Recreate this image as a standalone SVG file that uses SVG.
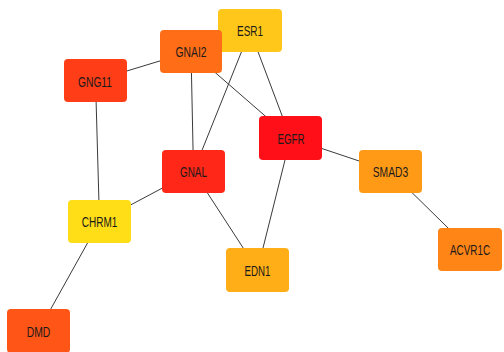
<svg xmlns="http://www.w3.org/2000/svg" width="504" height="352" viewBox="0 0 504 352">
  <style>
    .edge { stroke: #3a3a3a; stroke-width: 1; fill: none; }
    .node rect { rx: 4; ry: 4; }
    .node text { font-family: "Liberation Sans", Arial, sans-serif; font-size: 14.5px; fill: #1a1a1a; text-anchor: middle; }
  </style>
  <rect width="504" height="352" fill="#ffffff"/>
  <!-- interactions, drawn centre to centre beneath the nodes -->
  <g id="edges">
    <line class="edge" x1="95.5" y1="80.5" x2="191" y2="51.5"/>
    <line class="edge" x1="191" y1="51.5" x2="193.5" y2="171.5"/>
    <line class="edge" x1="191" y1="51.5" x2="290.5" y2="138"/>
    <line class="edge" x1="250" y1="30.5" x2="193.5" y2="171.5"/>
    <line class="edge" x1="250" y1="30.5" x2="290.5" y2="138"/>
    <line class="edge" x1="290.5" y1="138" x2="390.5" y2="171.5"/>
    <line class="edge" x1="290.5" y1="138" x2="257.5" y2="270"/>
    <line class="edge" x1="95.5" y1="80.5" x2="99.5" y2="221.5"/>
    <line class="edge" x1="193.5" y1="171.5" x2="99.5" y2="221.5"/>
    <line class="edge" x1="193.5" y1="171.5" x2="257.5" y2="270"/>
    <line class="edge" x1="99.5" y1="221.5" x2="38.5" y2="331"/>
    <line class="edge" x1="390.5" y1="171.5" x2="470" y2="249.5"/>
  </g>
  <g id="ESR1" class="node">
    <rect x="218" y="9" width="64" height="43" fill="#FFC71A"/>
    <text x="250" y="36" textLength="26" lengthAdjust="spacingAndGlyphs">ESR1</text>
  </g>
  <g id="GNAI2" class="node">
    <rect x="160" y="30" width="62" height="43" fill="#FF6E17"/>
    <text x="191" y="57" textLength="31" lengthAdjust="spacingAndGlyphs">GNAI2</text>
  </g>
  <g id="GNG11" class="node">
    <rect x="64" y="59" width="63" height="43" fill="#FF3D17"/>
    <text x="95" y="86.5" textLength="34" lengthAdjust="spacingAndGlyphs">GNG11</text>
  </g>
  <g id="EGFR" class="node">
    <rect x="259" y="116" width="63" height="44" fill="#FF0F17"/>
    <text x="291" y="143.5" textLength="27" lengthAdjust="spacingAndGlyphs">EGFR</text>
  </g>
  <g id="GNAL" class="node">
    <rect x="162" y="150" width="63" height="43" fill="#FF2717"/>
    <text x="193.5" y="177" textLength="27" lengthAdjust="spacingAndGlyphs">GNAL</text>
  </g>
  <g id="SMAD3" class="node">
    <rect x="359" y="150" width="63" height="43" fill="#FF9A17"/>
    <text x="390.5" y="177" textLength="35.5" lengthAdjust="spacingAndGlyphs">SMAD3</text>
  </g>
  <g id="CHRM1" class="node">
    <rect x="68" y="200" width="63" height="43" fill="#FFDD17"/>
    <text x="99.5" y="227" textLength="35.5" lengthAdjust="spacingAndGlyphs">CHRM1</text>
  </g>
  <g id="EDN1" class="node">
    <rect x="226" y="248" width="63" height="44" fill="#FFAE17"/>
    <text x="257.5" y="275.5" textLength="26" lengthAdjust="spacingAndGlyphs">EDN1</text>
  </g>
  <g id="ACVR1C" class="node">
    <rect x="438" y="228" width="64" height="43" fill="#FF8517"/>
    <text x="470" y="255" textLength="40" lengthAdjust="spacingAndGlyphs">ACVR1C</text>
  </g>
  <g id="DMD" class="node">
    <rect x="7" y="309" width="63" height="44" fill="#FF5517"/>
    <text x="38.5" y="336.5" textLength="23.5" lengthAdjust="spacingAndGlyphs">DMD</text>
  </g>
</svg>
